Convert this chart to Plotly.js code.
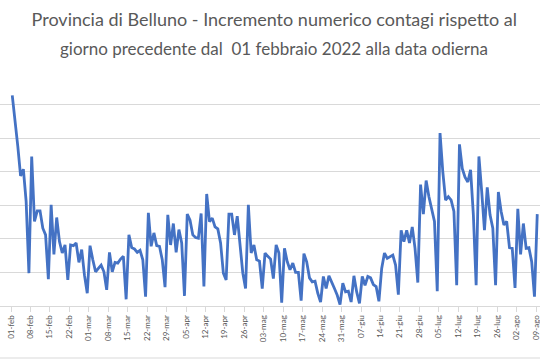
<!DOCTYPE html>
<html>
<head>
<meta charset="utf-8">
<script src="https://cdn.plot.ly/plotly-3.0.1.min.js"></script>
<style>html,body{margin:0;padding:0;background:#fff;}#chart{width:540px;height:360px;}</style>
</head>
<body>
<div id="chart"></div>
<script>
// Title lines
const titleLine1 = "Provincia di Belluno - Incremento numerico contagi rispetto al";
const titleLine2 = "giorno precedente dal\u00a0 01 febbraio 2022 alla data odierna";

// Weekly tick labels (every 7 days from 01-feb)
const tickLabels = ["01-feb","08-feb","15-feb","22-feb","01-mar","08-mar","15-mar","22-mar","29-mar",
  "05-apr","12-apr","19-apr","26-apr","03-mag","10-mag","17-mag","24-mag","31-mag",
  "07-giu","14-giu","21-giu","28-giu","05-lug","12-lug","19-lug","26-lug","02-ago","09-ago"];

// Daily increments, 01-feb .. 09-ago 2022
const feb = [314,278,238,194,204,156,49,223,126,142,142,116,106,40,151,77,132,96,79,91,39,91,90,94,65,84,46,19];
const mar = [90,69,51,56,61,51,24,80,51,65,64,70,74,10,106,87,85,80,83,69,14,139,89,109,90,89,69,28,136,91,123];
const apr = [80,114,94,15,137,128,106,102,101,138,29,167,126,131,118,115,94,49,39,137,137,106,134,94,49,26,151,79,91,69];
const mag = [67,26,79,74,70,41,91,79,5,86,66,54,64,50,50,8,78,66,42,36,37,19,6,44,26,45,34,26,16,2,34];
const giu = [21,22,6,45,21,4,44,31,44,42,32,29,7,56,79,71,74,76,61,17,113,96,113,94,118,86,35,181,137,187];
const lug = [163,143,126,22,258,200,158,163,158,141,31,241,205,192,185,203,136,31,223,171,113,177,136,116,31,170,141,121,126,87,86];
const ago = [27,145,77,123,86,87,66,14,137];

const values = [].concat(feb, mar, apr, mag, giu, lug, ago);
const x = values.map((_, i) => i);
const tickvals = tickLabels.map((_, k) => 7 * k - 0.45);

const trace = {
  x: x, y: values, type: "scatter", mode: "lines",
  line: {color: "#4472C4", width: 2.8},
  hoverinfo: "y"
};

const layout = {
  width: 540, height: 360,
  margin: {l: 0, r: 0, t: 78, b: 54, pad: 0},
  paper_bgcolor: "#ffffff", plot_bgcolor: "#ffffff",
  showlegend: false,
  font: {family: "Lato, 'Open Sans', sans-serif", color: "#595959"},
  title: {
    text: titleLine1,
    font: {family: "Lato, 'Open Sans', sans-serif", size: 18, color: "#595959"},
    x: 0.508, xanchor: "center", y: 1 - 20/360, yanchor: "middle", yref: "container"
  },
  annotations: [{
    text: titleLine2, xref: "paper", yref: "paper", x: 0.508, y: (306 - 48) / 228,
    xanchor: "center", yanchor: "middle", showarrow: false,
    font: {family: "Lato, 'Open Sans', sans-serif", size: 17, color: "#595959"}
  }],
  xaxis: {
    range: [-4.41, 189.99], tickmode: "array", tickvals: tickvals, ticktext: tickLabels,
    tickangle: -90, tickfont: {size: 8, color: "#595959"}, ticklabeloverflow: "allow",
    ticks: "outside", ticklen: 5, tickcolor: "#d9d9d9",
    showline: true, linecolor: "#d9d9d9", linewidth: 1,
    showgrid: false, zeroline: false, fixedrange: true
  },
  yaxis: {
    range: [0, 340], dtick: 50, showticklabels: false,
    showgrid: true, gridcolor: "#d9d9d9", gridwidth: 1,
    zeroline: false, showline: false, ticks: "", fixedrange: true
  },
  shapes: [{
    type: "line", xref: "paper", yref: "paper", x0: 0, x1: 1, y0: -52/228, y1: -52/228,
    line: {color: "#d9d9d9", width: 1}
  }]
};

Plotly.newPlot("chart", [trace], layout, {displayModeBar: false, staticPlot: true});
</script>
</body>
</html>
